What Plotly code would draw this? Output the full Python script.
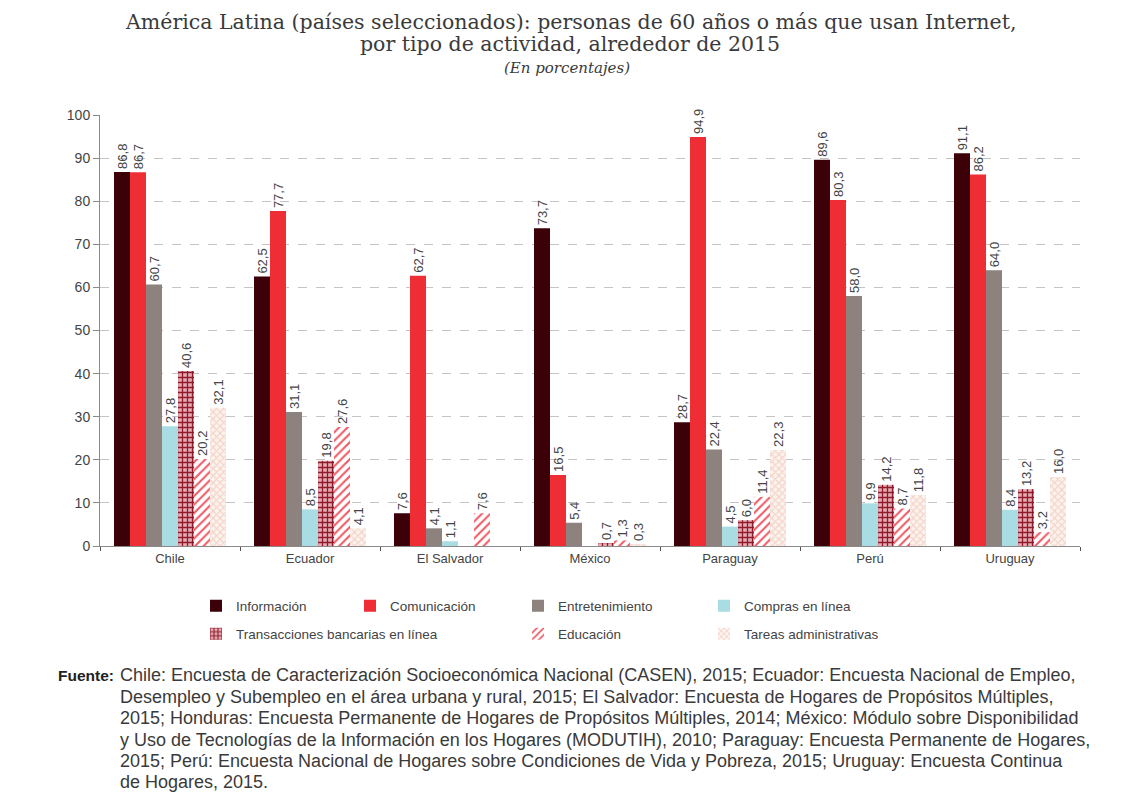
import plotly.graph_objects as go

# Countries and activity categories
paises = ["Chile", "Ecuador", "El Salvador", "México", "Paraguay", "Perú", "Uruguay"]
actividades = [
    "Información",
    "Comunicación",
    "Entretenimiento",
    "Compras en línea",
    "Transacciones bancarias en línea",
    "Educación",
    "Tareas administrativas",
]

# Percentages per activity (None = not available)
informacion = [86.8, 62.5, 7.6, 73.7, 28.7, 89.6, 91.1]
comunicacion = [86.7, 77.7, 62.7, 16.5, 94.9, 80.3, 86.2]
entretenimiento = [60.7, 31.1, 4.1, 5.4, 22.4, 58.0, 64.0]
compras = [27.8, 8.5, 1.1, None, 4.5, 9.9, 8.4]
transacciones = [40.6, 19.8, None, 0.7, 6.0, 14.2, 13.2]
educacion = [20.2, 27.6, 7.6, 1.3, 11.4, 8.7, 3.2]
tareas = [32.1, 4.1, None, 0.3, 22.3, 11.8, 16.0]

series = [informacion, comunicacion, entretenimiento, compras,
          transacciones, educacion, tareas]

y_ticks = [0, 10, 20, 30, 40, 50, 60, 70, 80, 90, 100]

SANS = "Liberation Sans, Arial, sans-serif"
SERIF = "DejaVu Serif, serif"
TXT = "#444444"

# Plot area in pixels
W, H = 1137, 801
L, R, T, B = 100, 57, 115, 255
PW, PH = W - L - R, H - T - B


def px_x(x):
    return (x - L) / PW


def px_y(y):
    return (H - B - y) / PH


styles = [
    dict(color="#3b0008"),
    dict(color="#ee2e34"),
    dict(color="#8d827d"),
    dict(color="#a9dde3"),
    dict(color="#e6aab2", pattern=dict(shape="+", fgcolor="#8e1a2a", bgcolor="#e6aab2",
                                       size=5, solidity=0.45, fillmode="replace")),
    dict(color="#ffffff", pattern=dict(shape="/", fgcolor="#ef5a66", bgcolor="#ffffff",
                                       size=6, solidity=0.35, fillmode="replace")),
    dict(color="#fbefe8", pattern=dict(shape="x", fgcolor="#f3d3c6", bgcolor="#fcf3ee",
                                       size=5, solidity=0.4, fillmode="replace")),
]

# Legend slot for each series: (text start x, row y) in pixels
legend_slots = [(238, 606), (392, 606), (560, 606), (746, 606),
                (238, 634), (560, 634), (746, 634)]


def fmt(v):
    return "" if v is None else f"{v:.1f}".replace(".", ",")


fig = go.Figure()
for i, (name, vals, st) in enumerate(zip(actividades, series, styles)):
    fig.add_trace(go.Bar(
        name=name,
        x=paises,
        y=vals,
        marker=dict(line=dict(width=0), **st),
        text=[fmt(v) for v in vals],
        textposition="outside",
        textangle=-90,
        constraintext="none",
        cliponaxis=False,
        textfont=dict(family=SANS, size=13, color=TXT),
        legend="legend" if i == 0 else f"legend{i + 1}",
        showlegend=True,
        hoverinfo="x+y+name",
    ))

layout_legends = {}
for i, (tx, ty) in enumerate(legend_slots):
    key = "legend" if i == 0 else f"legend{i + 1}"
    layout_legends[key] = dict(
        x=px_x(tx - 42), y=px_y(ty), xanchor="left", yanchor="middle",
        bgcolor="rgba(0,0,0,0)", borderwidth=0, itemwidth=30,
        font=dict(family=SANS, size=13.5, color=TXT),
        orientation="h", visible=True,
    )

annotations = [
    dict(text="América Latina (países seleccionados): personas de 60 años o más que usan Internet,",
         x=px_x(570), y=px_y(22), font=dict(family=SERIF, size=20.5, color="#3a3a3a")),
    dict(text="por tipo de actividad, alrededor de 2015",
         x=px_x(570), y=px_y(44), font=dict(family=SERIF, size=20.5, color="#3a3a3a")),
    dict(text="<i>(En porcentajes)</i>",
         x=px_x(567), y=px_y(68), font=dict(family=SERIF, size=15, color="#3a3a3a")),
]
for a in annotations:
    a.update(xref="paper", yref="paper", showarrow=False, xanchor="center", yanchor="middle")

fuente = [
    "Chile: Encuesta de Caracterización Socioeconómica Nacional (CASEN), 2015; Ecuador: Encuesta Nacional de Empleo,",
    "Desempleo y Subempleo en el área urbana y rural, 2015; El Salvador: Encuesta de Hogares de Propósitos Múltiples,",
    "2015; Honduras: Encuesta Permanente de Hogares de Propósitos Múltiples, 2014; México: Módulo sobre Disponibilidad",
    "y Uso de Tecnologías de la Información en los Hogares (MODUTIH), 2010; Paraguay: Encuesta Permanente de Hogares,",
    "2015; Perú: Encuesta Nacional de Hogares sobre Condiciones de Vida y Pobreza, 2015; Uruguay: Encuesta Continua",
    "de Hogares, 2015.",
]
line_y = [675, 697, 718, 740, 761, 782]
annotations.append(dict(text="<b>Fuente:</b>", x=px_x(116), y=px_y(675), xref="paper", yref="paper",
                        showarrow=False, xanchor="right", yanchor="middle",
                        font=dict(family=SANS, size=15.5, color="#222222")))
for line, ly in zip(fuente, line_y):
    annotations.append(dict(text=line, x=px_x(118), y=px_y(ly), xref="paper", yref="paper",
                            showarrow=False, xanchor="left", yanchor="middle",
                            font=dict(family=SANS, size=18, color="#3a3a3a")))

fig.update_layout(
    width=W, height=H,
    margin=dict(l=L, r=R, t=T, b=B, pad=0),
    paper_bgcolor="white", plot_bgcolor="white",
    showlegend=True,
    barmode="group", bargap=0.2, bargroupgap=0,
    separators=",.",
    annotations=annotations,
    xaxis=dict(
        type="category", showline=True, linecolor="#8a8a8a", linewidth=1,
        ticks="outside", tickson="boundaries", ticklen=4, tickcolor="#555555",
        showgrid=False,
        tickfont=dict(family=SANS, size=13, color=TXT),
    ),
    yaxis=dict(
        range=[0, 100], tickvals=y_ticks, showline=True, linecolor="#8a8a8a", linewidth=1,
        ticks="outside", ticklen=6, tickcolor="#8a8a8a",
        showgrid=True, gridcolor="#c4c4c4", griddash="dash", gridwidth=1,
        zeroline=False,
        tickfont=dict(family=SANS, size=14, color=TXT),
    ),
    **layout_legends,
)

fig.write_html("out.html")
